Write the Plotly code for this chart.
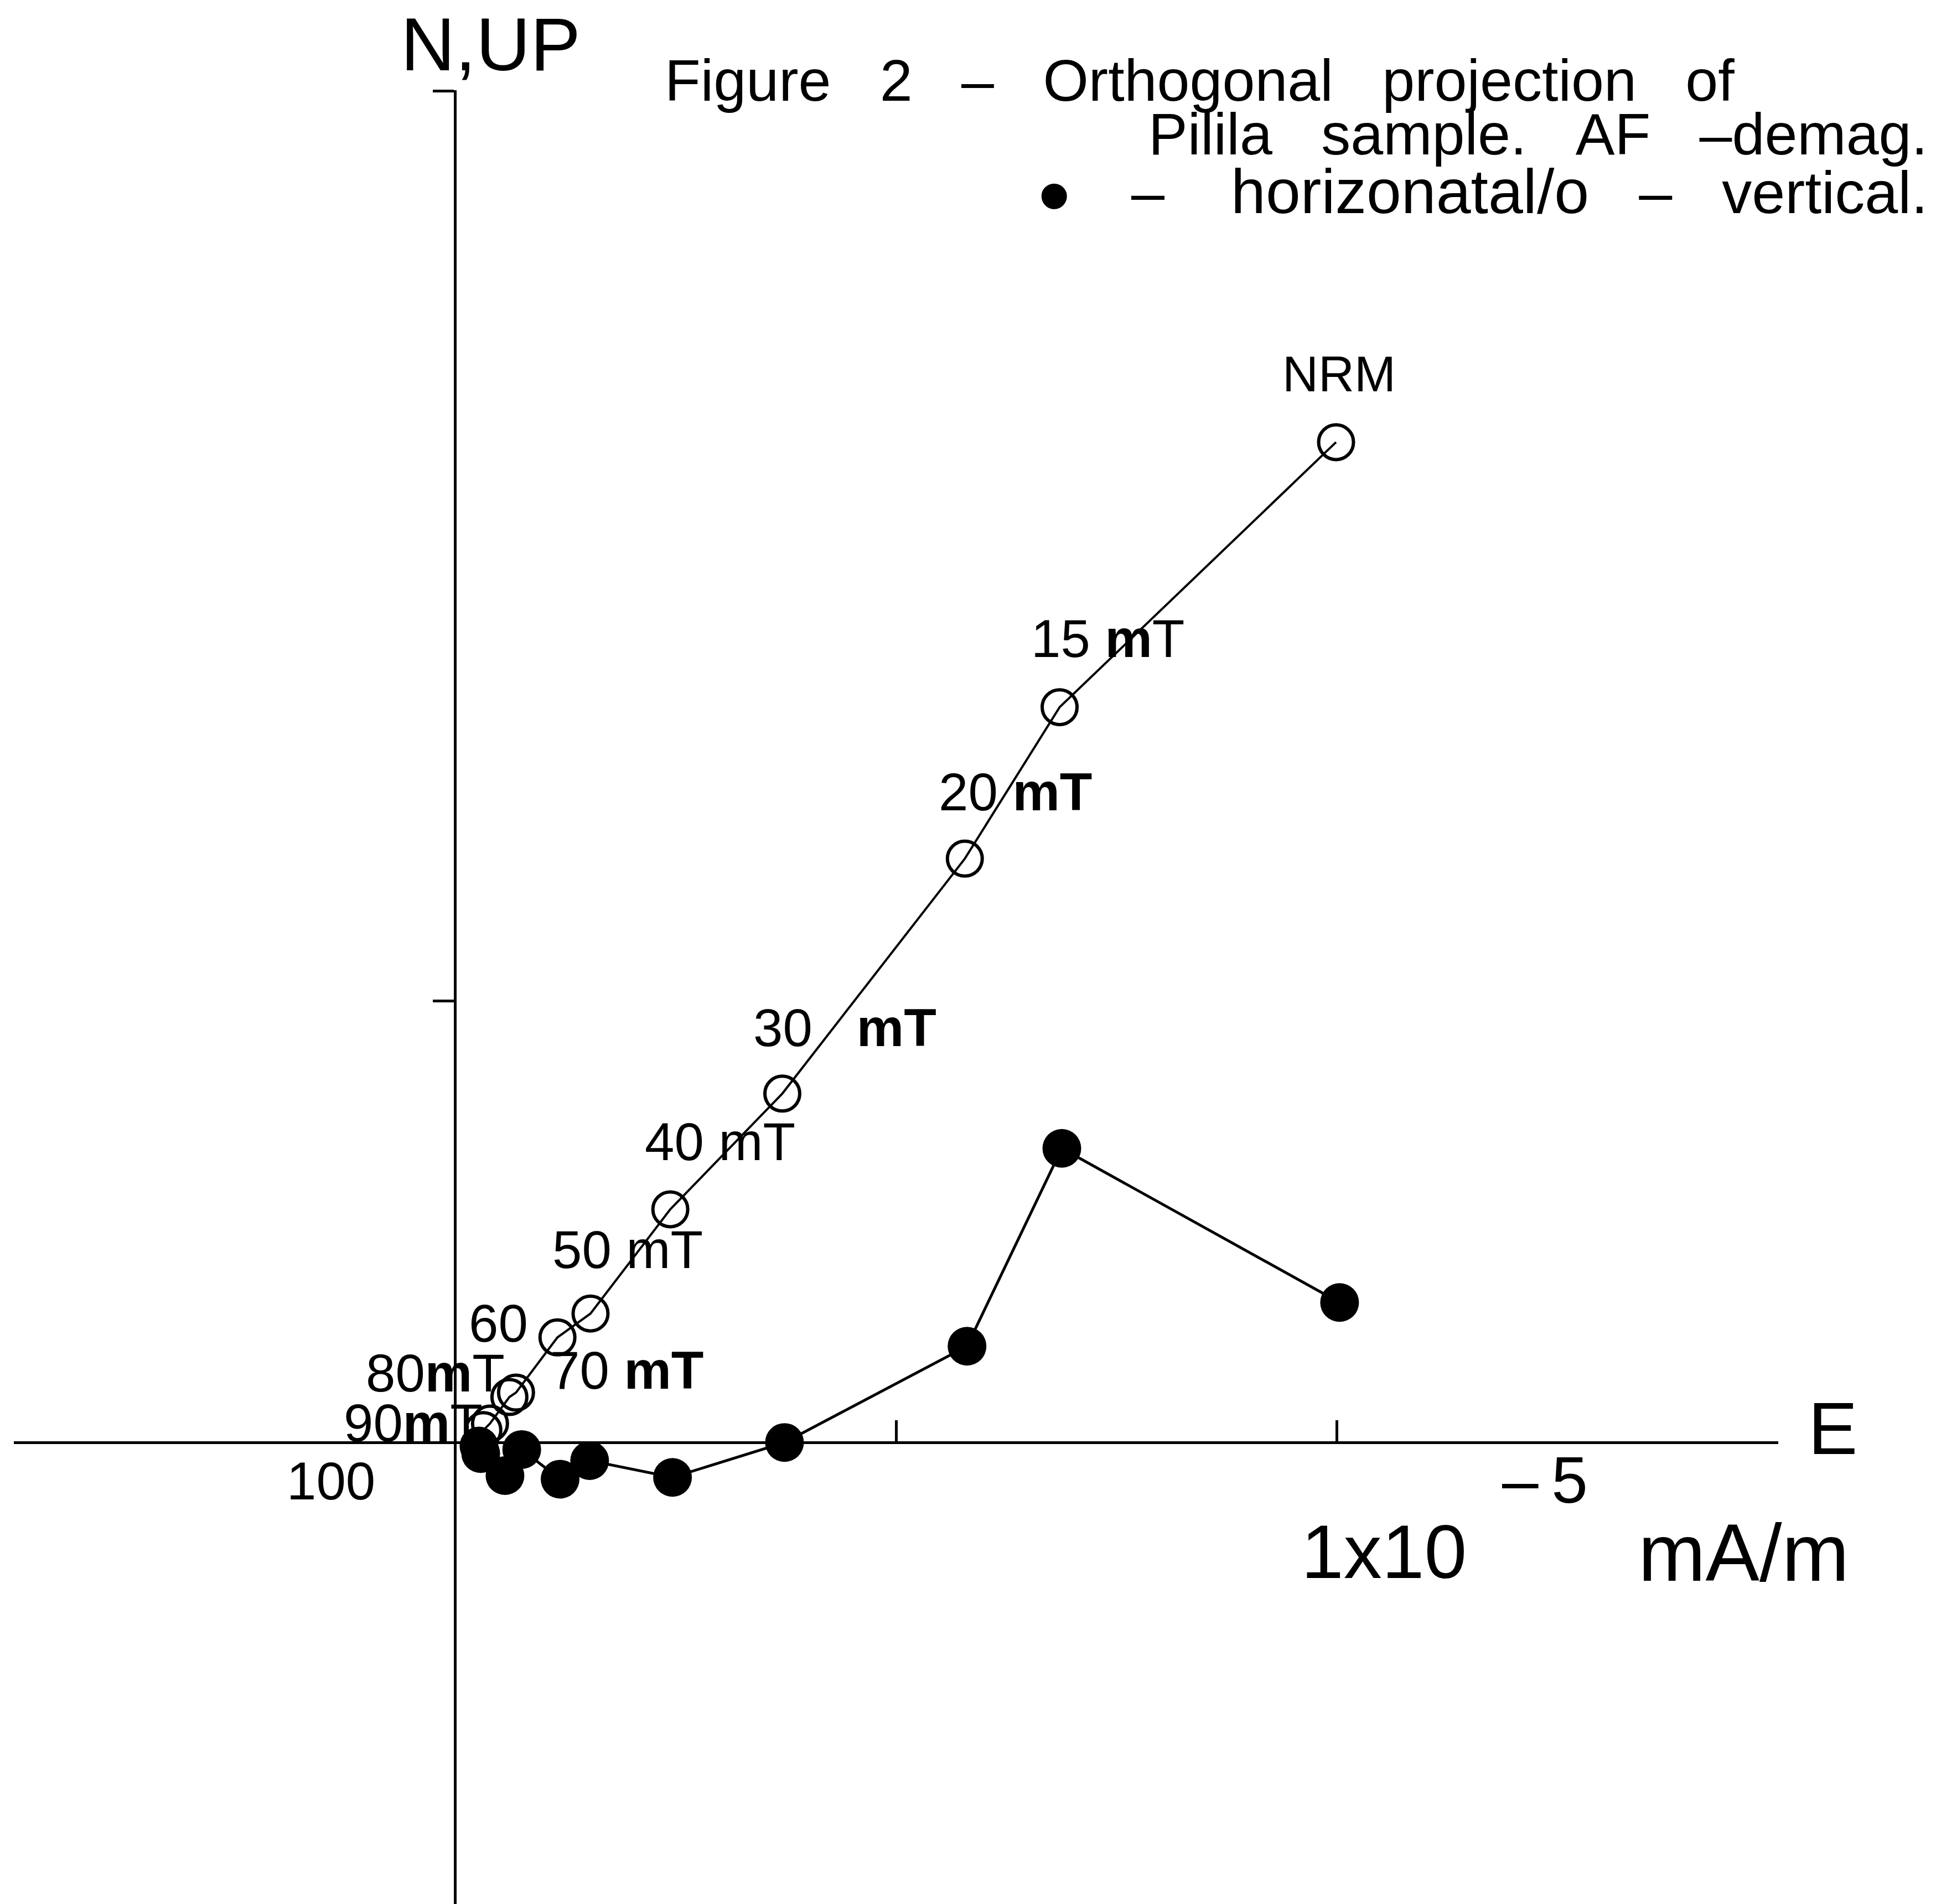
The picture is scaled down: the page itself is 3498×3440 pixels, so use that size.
import plotly.graph_objects as go

# ---- data (units of 1x10^-5 mA/m) ----
steps = ["NRM", "15", "20", "30", "40", "50", "60", "70", "80", "90", "100"]
step_labels = ["NRM", "15 <b>m</b>T", "20 <b>mT</b>", "30\u00a0\u00a0\u00a0<b>mT</b>", "40 mT",
               "50 mT", "60", "70 <b>mT</b>", "80<b>m</b>T", "90<b>m</b>T", "100"]

# vertical projection (open circles): E vs UP
vert_e = [1.998, 1.371, 1.156, 0.742, 0.488, 0.307, 0.232, 0.138, 0.123, 0.079, 0.064]
vert_up = [2.265, 1.665, 1.322, 0.790, 0.528, 0.292, 0.238, 0.113, 0.103, 0.043, 0.028]

# horizontal projection (filled dots): E vs N
hor_e = [2.006, 1.376, 1.161, 0.747, 0.493, 0.305, 0.238, 0.151, 0.113, 0.058, 0.054]
hor_n = [0.317, 0.666, 0.218, 0.000, -0.079, -0.041, -0.083, -0.016, -0.075, -0.025, -0.008]

x_ticks = [-1, 1, 2, 3]
y_ticks = [1, 3.06]

# ---- layout geometry ----
W, H = 3498, 3440
ML, MR, MT, MB = 25, 285, 163, 0
XR = [-1.001, 3.001]
YR = [-1.045, 3.062]
FONT = "Liberation Sans, Arial, sans-serif"

def paper(px, py):
    return ((px - ML) / (W - ML - MR), (H - MB - py) / (H - MT - MB))

fig = go.Figure()

fig.add_trace(go.Scatter(
    x=vert_e, y=vert_up, mode="lines+markers", name="vertical",
    line=dict(color="black", width=4),
    marker=dict(symbol="circle-open", size=63, color="black", line=dict(width=6)),
    hoverinfo="skip", showlegend=False,
))
fig.add_trace(go.Scatter(
    x=hor_e, y=hor_n, mode="lines+markers", name="horizontal",
    line=dict(color="black", width=5),
    marker=dict(symbol="circle", size=70, color="black"),
    hoverinfo="skip", showlegend=False,
))

# step labels, anchored to the vertical-projection points
label_offsets = {
    "NRM": (5, 123), "15": (87, 124), "20": (91, 121), "30": (113, 119),
    "40": (90, 122), "50": (67, 116), "60": (-107, 26), "70": (200, 41),
    "80": (-134, 44), "90": (-139, 1), "100": (-275, -92),
}
annotations = []
for s, lab, xe, yu in zip(steps, step_labels, vert_e, vert_up):
    dx, dy = label_offsets[s]
    annotations.append(dict(
        x=xe, y=yu, xref="x", yref="y", text=lab, showarrow=False,
        xanchor="center", yanchor="middle", xshift=dx, yshift=dy,
        font=dict(family=FONT, size=90 if s == "NRM" else 96, color="black"),
    ))

def txt(text, px, py, size, xanchor="center"):
    xp, yp = paper(px, py)
    annotations.append(dict(
        x=xp, y=yp, xref="paper", yref="paper", text=text, showarrow=False,
        xanchor=xanchor, yanchor="middle",
        font=dict(family=FONT, size=size, color="black"),
    ))

sp3 = "\u00a0\u00a0\u00a0"
txt("N,UP", 886, 80, 136)
txt("E", 3311, 2580, 134)
txt("\u2013\u20095", 2791, 2674, 118)
txt("1x10", 2500, 2803, 138)
txt("mA/m", 3150, 2805, 146)
txt("Figure" + sp3 + "2" + sp3 + "\u2013" + sp3 + "Orthogonal" + sp3 + "projection" + sp3 + "of",
    1199, 145, 106, xanchor="left")
txt("Pilila" + sp3 + "sample." + sp3 + "AF" + sp3 + "\u2013demag.", 3485, 242, 106, xanchor="right")
txt("\u2022", 1905, 352, 170)
txt("\u2013" + sp3 + "\u00a0<span style='font-size:113px'>horizonatal/o</span>" + sp3 + "\u2013" + sp3 + "vertical.",
    3485, 346, 108, xanchor="right")

fig.update_layout(
    width=W, height=H,
    margin=dict(l=ML, r=MR, t=MT, b=MB, pad=0),
    paper_bgcolor="white", plot_bgcolor="white",
    showlegend=False,
    annotations=annotations,
    xaxis=dict(
        range=XR, domain=[0, 1], anchor="free",
        position=(0 - YR[0]) / (YR[1] - YR[0]),
        showgrid=False, zeroline=False, showline=True,
        linecolor="black", linewidth=5,
        tickmode="array", tickvals=x_ticks, ticks="inside",
        ticklen=38, tickwidth=5, tickcolor="black",
        showticklabels=False, fixedrange=True,
    ),
    yaxis=dict(
        range=YR, domain=[0, 1], anchor="free",
        position=(0 - XR[0]) / (XR[1] - XR[0]),
        showgrid=False, zeroline=False, showline=True,
        linecolor="black", linewidth=5,
        tickmode="array", tickvals=y_ticks, ticks="outside",
        ticklen=38, tickwidth=5, tickcolor="black",
        showticklabels=False, fixedrange=True,
    ),
)

fig.write_html(
    "out.html",
    config={"displayModeBar": False, "responsive": False},
    post_script="document.body.style.margin='0';document.body.style.padding='0';",
)
